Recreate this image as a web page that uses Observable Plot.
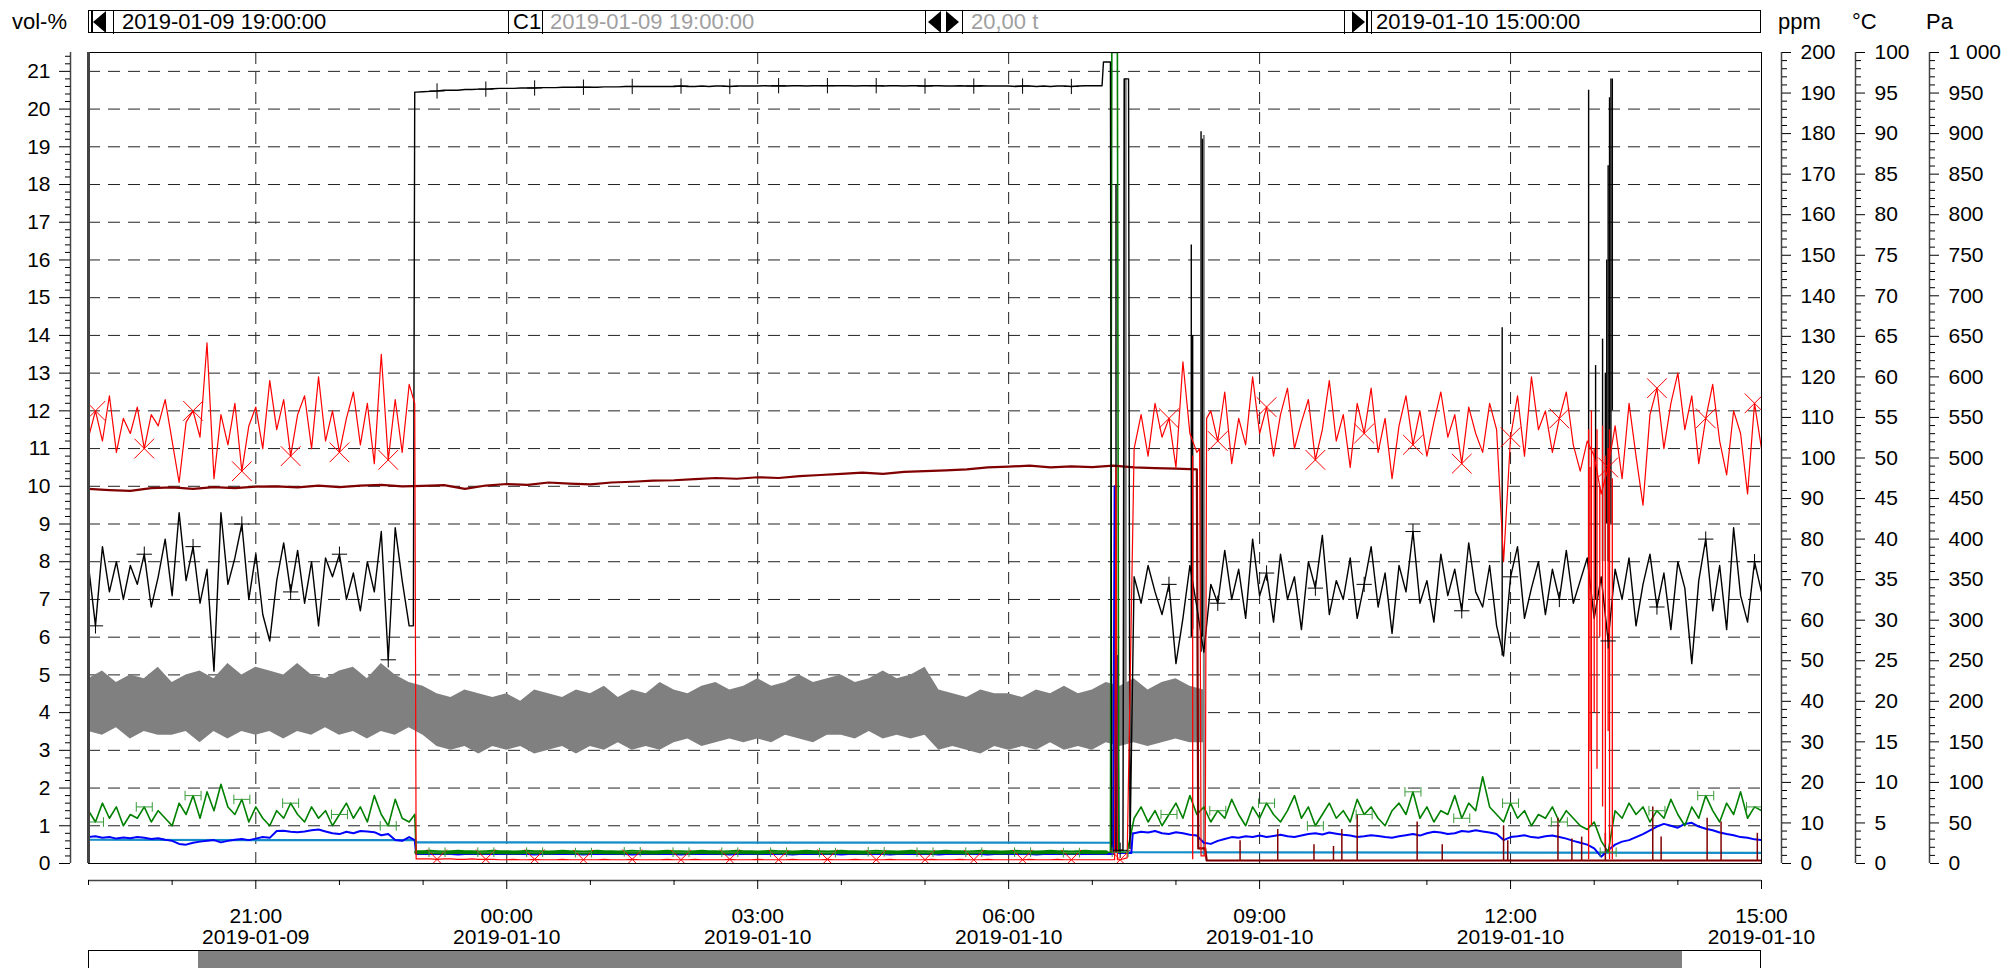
<!DOCTYPE html>
<html><head><meta charset="utf-8">
<script src="https://cdn.jsdelivr.net/npm/d3@7"></script>
<script src="https://cdn.jsdelivr.net/npm/@observablehq/plot@0.6"></script>
<style>
html,body{margin:0;padding:0;background:#fff;}
#wrap{position:relative;width:2004px;height:968px;overflow:hidden;font-family:"Liberation Sans",Arial,sans-serif;color:#000;background:#fff;}
#chart{position:absolute;left:0;top:0;}
.t{position:absolute;white-space:nowrap;font-size:22px;line-height:23px;top:10px;}
.g{color:#a0a0a0;}
.div{position:absolute;top:10px;width:1px;height:24px;background:#000;}
.tri{position:absolute;width:0;height:0;border-top:11px solid transparent;border-bottom:11px solid transparent;}
.tl{border-right:13px solid #000;}
.tr{border-left:13px solid #000;}
</style></head><body>
<div id="wrap">
  <div id="chart"></div>
  <div class="t" style="left:12px">vol-%</div>
  <div style="position:absolute;left:88px;top:10px;width:1673px;height:23px;border:1px solid #000;box-sizing:border-box;"></div>
  <div class="tri tl" style="left:93px;top:11px"></div>
  <div class="div" style="left:91px;width:2px;height:22px;top:11px"></div>
  <div class="div" style="left:113px"></div>
  <div class="t" style="left:122px">2019-01-09 19:00:00</div>
  <div class="div" style="left:508px"></div>
  <div class="t" style="left:513px">C1</div>
  <div class="div" style="left:542px"></div>
  <div class="t g" style="left:550px">2019-01-09 19:00:00</div>
  <div class="div" style="left:925px"></div>
  <div class="tri tl" style="left:928px;top:11px"></div>
  <div class="tri tr" style="left:946px;top:11px"></div>
  <div class="div" style="left:962px"></div>
  <div class="t g" style="left:971px">20,00 t</div>
  <div class="div" style="left:1344px"></div>
  <div class="tri tr" style="left:1352px;top:11px"></div>
  <div class="div" style="left:1366px;width:2px;height:22px;top:11px"></div>
  <div class="div" style="left:1371px"></div>
  <div class="t" style="left:1376px">2019-01-10 15:00:00</div>
  <div class="t" style="left:1778px">ppm</div>
  <div class="t" style="left:1852px">°C</div>
  <div class="t" style="left:1926px">Pa</div>
  <div style="position:absolute;left:88px;top:950px;width:1673px;height:40px;border:1px solid #000;box-sizing:border-box;background:#fff;"></div>
  <div style="position:absolute;left:198px;top:951px;width:1484px;height:40px;background:#808080;"></div>
</div>
<script>
// ---- time helpers (minutes from 2019-01-09 19:00) ----
const T = m => new Date(2019, 0, 9, 19, 0, Math.round(m * 60));
const STEP = 5; // grid step in minutes
const YMAX = 21.5;

// ---- axis tick labels ----
const yTicks = [0,1,2,3,4,5,6,7,8,9,10,11,12,13,14,15,16,17,18,19,20,21];
const ppmTicks = [0,10,20,30,40,50,60,70,80,90,100,110,120,130,140,150,160,170,180,190,200];
const degTicks = [0,5,10,15,20,25,30,35,40,45,50,55,60,65,70,75,80,85,90,95,100];
const paTicks = [0,50,100,150,200,250,300,350,400,450,500,550,600,650,700,750,800,850,900,950,1000];
const xMajorMin = [120, 300, 480, 660, 840, 1020, 1200];   // 21:00 ... 15:00
const xGridMin = [120, 300, 480, 660, 840, 1020];
const xMinorMin = [0, 60, 180, 240, 360, 420, 540, 600, 720, 780, 900, 960, 1080, 1140];

// ---- red series, 5-min grid from 19:00 to 15:00 ----
const red = [
 11.3,12.0,11.2,12.4,10.9,11.8,11.4,12.1,11.0,11.9,11.6,12.3,
 11.2,10.1,11.7,12.0,11.3,13.8,10.2,11.9,11.1,12.2,10.4,11.6,
 12.1,11.0,12.8,11.5,12.3,10.8,11.9,12.4,11.0,12.9,11.2,12.0,
 10.9,11.8,12.5,11.1,12.2,10.6,13.5,10.7,12.3,10.9,12.7,0.12,
 0.12,0.12,0.11,0.12,0.12,0.11,0.11,0.12,0.11,0.11,0.11,0.10,
 0.10,0.11,0.10,0.10,0.11,0.10,0.10,0.10,0.11,0.10,0.10,0.10,
 0.10,0.10,0.11,0.10,0.10,0.10,0.11,0.10,0.10,0.10,0.10,0.11,
 0.10,0.10,0.10,0.11,0.10,0.10,0.10,0.10,0.11,0.10,0.10,0.10,
 0.11,0.10,0.10,0.10,0.10,0.11,0.10,0.10,0.10,0.10,0.11,0.10,
 0.10,0.10,0.11,0.10,0.10,0.10,0.10,0.11,0.10,0.10,0.10,0.10,
 0.10,0.11,0.10,0.10,0.10,0.11,0.10,0.10,0.10,0.11,0.10,0.10,
 0.10,0.10,0.10,0.11,0.10,0.10,0.10,0.11,0.10,0.10,0.10,0.10,
 0.10,0.10,0.10,0.10,0.10,0.15,11.0,11.9,10.8,12.2,11.3,11.8,
 10.5,13.3,11.4,10.9,0.2,12.0,11.2,12.5,10.6,11.8,11.1,12.9,
 11.4,12.1,10.8,11.9,12.6,11.0,11.7,12.3,10.7,11.5,12.8,11.2,
 11.9,10.5,12.2,11.4,12.6,10.9,11.8,10.2,11.6,12.4,11.1,12.0,
 10.8,11.7,12.5,11.3,11.9,10.6,12.1,11.4,10.9,12.2,11.5,8.0,
 11.3,12.4,10.8,12.9,11.5,12.0,10.9,11.8,12.5,11.1,10.4,11.2,
 10.8,9.8,10.5,11.6,10.2,12.2,10.8,9.5,11.9,12.6,11.0,12.2,
 13.0,11.5,12.4,10.6,11.8,12.7,11.2,10.3,12.0,11.4,9.8,12.2,
 11.0
];
const redExtra = [[234,12.2],[736,0.1],[737,10.5],[738,0.1],[797,11.0],[798,0.2],[801,0.2],[802,11.8]];
const redSpikes = [[792,0.1,10.8],[1076,0.1,11.5],[1077,3,10.5],[1078,1,12],[1080,4,11],[1082,2.5,11.5],[1084,6,10],[1086,1.5,11.6],[1088,0.5,10.8],[1090,3.5,11],[1091,0.1,11.5],[1093,0.1,10.2]];

// ---- black series ----
const black = [
 7.9,6.3,8.4,7.2,8.0,7.0,7.9,7.4,8.2,6.8,7.6,8.6,
 7.1,9.3,7.5,8.4,6.9,7.8,5.1,9.3,7.4,8.1,9.0,7.0,
 8.2,6.6,5.9,7.5,8.5,7.2,8.3,6.9,8.0,6.3,8.1,7.6,
 8.2,7.0,7.7,6.7,8.0,7.2,8.8,5.4,8.9,7.5,6.3,20.45,
 20.46,20.47,20.48,20.50,20.50,20.50,20.52,20.52,20.53,20.53,20.54,20.55,
 20.55,20.55,20.56,20.56,20.56,20.57,20.57,20.57,20.58,20.58,20.58,20.58,
 20.58,20.58,20.59,20.59,20.59,20.60,20.60,20.60,20.60,20.60,20.60,20.60,
 20.60,20.61,20.60,20.60,20.61,20.60,20.61,20.61,20.60,20.61,20.61,20.61,
 20.61,20.62,20.61,20.62,20.61,20.62,20.62,20.61,20.62,20.62,20.62,20.62,
 20.62,20.62,20.61,20.62,20.62,20.62,20.61,20.62,20.62,20.61,20.62,20.62,
 20.61,20.62,20.62,20.61,20.61,20.62,20.61,20.61,20.62,20.61,20.61,20.61,
 20.61,20.60,20.61,20.61,20.60,20.61,20.60,20.61,20.61,20.60,20.61,20.62,
 20.62,20.62,21.25,0.3,0.35,20.8,7.6,6.9,7.9,7.2,6.6,7.4,
 5.3,6.5,7.9,6.8,5.6,7.4,6.9,8.3,7.0,7.8,6.5,8.6,
 7.1,7.7,6.4,8.2,7.0,7.6,6.2,8.0,7.3,8.7,6.6,7.5,
 7.0,8.1,6.5,7.4,8.4,6.8,7.7,6.1,7.9,7.2,8.8,6.9,
 7.5,6.4,8.2,7.1,7.8,6.7,8.5,7.2,6.8,7.9,6.3,5.5,
 7.6,8.4,6.5,7.3,8.0,6.6,7.8,7.0,8.3,6.9,7.5,8.1,
 6.5,7.6,5.9,7.8,7.0,8.1,6.3,7.4,8.2,6.8,7.7,6.2,
 8.0,7.3,5.3,7.5,8.6,6.7,7.9,6.2,8.9,7.1,6.4,8.0,
 7.2
];
const blackExtra = [[233,6.3],[234,20.45],[727,20.62],[728,21.25],[733,21.25],[734,0.3],[742,0.35],[743,20.8],[746,20.8],[747,0.4]];
const blackSpikes = [[737,0.3,18.0],[791,6.0,16.4],[792,6.2,14.0],[798,5.6,19.4],[799,6.0,19.2],[1014,5.5,14.2],[1076,7.0,20.5],[1081,7.0,13.2],[1086,8.0,13.9],[1088,8.0,13.0],[1089,9.0,16.0],[1090,8.0,18.5],[1091,10.0,20.3],[1092,9.0,20.8],[1093,12.0,20.8]];

// ---- green series ----
const green = [
 1.4,1.1,1.6,1.2,1.5,1.0,1.3,1.2,1.5,1.1,1.4,1.2,
 1.0,1.6,1.3,1.8,1.2,1.9,1.4,2.1,1.5,1.3,1.7,1.1,
 1.5,1.2,1.0,1.4,1.2,1.6,1.3,1.1,1.5,1.2,1.4,1.0,
 1.3,1.6,1.2,1.5,1.1,1.8,1.3,1.0,1.7,1.2,1.1,0.3,
 0.30,0.31,0.30,0.29,0.30,0.31,0.30,0.30,0.29,0.30,0.31,0.30,
 0.30,0.29,0.30,0.31,0.30,0.30,0.29,0.30,0.31,0.30,0.30,0.29,
 0.30,0.31,0.30,0.30,0.29,0.30,0.31,0.30,0.30,0.29,0.30,0.31,
 0.30,0.30,0.29,0.30,0.31,0.30,0.30,0.29,0.30,0.31,0.30,0.30,
 0.29,0.30,0.31,0.30,0.30,0.29,0.30,0.31,0.30,0.30,0.29,0.30,
 0.31,0.30,0.30,0.29,0.30,0.31,0.30,0.30,0.29,0.30,0.31,0.30,
 0.30,0.29,0.30,0.31,0.30,0.30,0.29,0.30,0.31,0.30,0.30,0.29,
 0.30,0.31,0.30,0.30,0.29,0.30,0.31,0.30,0.30,0.29,0.30,0.31,
 0.30,0.30,0.30,21.5,0.30,0.30,1.2,1.5,1.1,1.4,1.0,1.3,
 1.6,1.2,1.8,1.3,1.5,1.1,1.4,1.2,1.7,1.3,1.0,1.5,
 1.2,1.6,1.3,1.1,1.4,1.8,1.2,1.5,1.0,1.3,1.6,1.2,
 1.4,1.1,1.7,1.3,1.5,1.2,1.0,1.4,1.6,1.3,1.9,1.2,
 1.5,1.1,1.4,1.3,1.8,1.2,1.6,1.4,2.3,1.5,1.3,1.1,
 1.6,1.2,1.4,1.0,1.3,1.2,1.5,1.1,1.4,1.2,1.0,0.9,
 1.1,0.6,0.3,1.4,1.2,1.6,1.3,1.5,1.1,1.4,1.2,1.7,
 1.3,1.0,1.5,1.2,1.8,1.4,1.1,1.6,1.3,1.9,1.2,1.5,
 1.4
];
const greenExtra = [[234,1.3],[733,0.3],[734,21.5],[738,21.5],[739,0.3]];

// ---- blue series ----
const blue = [
 0.70,0.72,0.68,0.70,0.66,0.69,0.67,0.70,0.68,0.65,0.67,0.63,
 0.60,0.52,0.50,0.55,0.58,0.60,0.62,0.56,0.60,0.63,0.65,0.62,
 0.66,0.70,0.68,0.86,0.87,0.84,0.83,0.85,0.88,0.90,0.85,0.80,
 0.78,0.84,0.80,0.86,0.85,0.83,0.75,0.78,0.62,0.60,0.70,0.25,
 0.25,0.25,0.26,0.25,0.25,0.24,0.25,0.25,0.26,0.25,0.25,0.25,
 0.25,0.26,0.25,0.25,0.24,0.25,0.25,0.26,0.25,0.25,0.25,0.24,
 0.25,0.25,0.26,0.25,0.25,0.25,0.24,0.25,0.25,0.26,0.25,0.25,
 0.25,0.24,0.25,0.25,0.26,0.25,0.25,0.25,0.24,0.25,0.26,0.25,
 0.25,0.25,0.25,0.26,0.25,0.24,0.25,0.25,0.25,0.26,0.25,0.25,
 0.24,0.25,0.25,0.25,0.26,0.25,0.25,0.24,0.25,0.25,0.25,0.26,
 0.25,0.25,0.24,0.25,0.25,0.26,0.25,0.25,0.25,0.24,0.25,0.25,
 0.26,0.25,0.25,0.25,0.24,0.25,0.25,0.26,0.25,0.25,0.25,0.25,
 0.25,0.25,0.25,0.25,0.28,0.28,0.80,0.84,0.82,0.86,0.80,0.78,
 0.83,0.80,0.76,0.74,0.55,0.52,0.60,0.65,0.70,0.68,0.72,0.70,
 0.74,0.70,0.73,0.76,0.72,0.70,0.74,0.78,0.80,0.77,0.82,0.79,
 0.76,0.74,0.70,0.72,0.75,0.73,0.70,0.68,0.72,0.75,0.78,0.74,
 0.80,0.84,0.82,0.78,0.80,0.86,0.84,0.88,0.85,0.82,0.78,0.62,
 0.70,0.72,0.75,0.70,0.68,0.72,0.74,0.70,0.66,0.60,0.55,0.50,
 0.40,0.18,0.35,0.50,0.58,0.62,0.70,0.78,0.88,0.98,1.05,1.00,
 0.95,1.05,1.08,0.98,0.92,0.88,0.82,0.78,0.75,0.70,0.68,0.64,
 0.62
];
const blueExtra = [[234,0.62],[736,10.0],[737,0.3],[738,5.5],[739,0.28],[748,0.28],[749,0.8]];

// ---- light blue series (explicit points) ----
const cyanPts = [[0,0.63],[120,0.62],[234,0.62],[235,0.56],[735,0.55],[736,0.55],[737,1.8],[738,0.3],[1200,0.28]];

// ---- dark red series: 15-min steps 19:00-08:15, then low ----
const maroon = [
 9.93,9.90,9.88,9.95, 9.97,9.93,9.98,9.95, 9.99,10.00,9.97,10.02, 9.98,10.02,10.04,10.00,
 10.01,10.03,9.93,10.02, 10.06,10.04,10.10,10.07, 10.05,10.10,10.12,10.15, 10.16,10.19,10.22,10.20,
 10.24,10.22,10.27,10.30, 10.33,10.36,10.33,10.38, 10.40,10.42,10.45,10.50, 10.52,10.55,10.50,10.53,
 10.51,10.55,10.50,10.48, 10.47,10.45
];
const maroonTail = [[796,0.4],[801,0.4],[802,0.08],[1200,0.08]];
const maroonSpikes = [[826,0.6],[853,0.9],[879,0.5],[893,0.45],[899,0.9],[910,1.3],[953,1.1],[971,0.5],[1015,1.0],[1018,0.6],[1054,1.2],[1064,0.65],[1071,0.7],[1088,0.8],[1122,1.5],[1128,0.7],[1161,1.2],[1171,1.1],[1197,0.8]];

// ---- grey noisy band: 10-min envelope 19:00-08:20 ----
const greyHi = [
 4.9,5.1,4.8,5.0,4.9,5.2, 4.8,5.0,5.1,4.9,5.3,5.0, 5.2,5.1,5.0,5.3,5.0,4.9, 5.1,5.2,4.9,5.3,5.0,4.8,
 4.7,4.5,4.4,4.6,4.5,4.4, 4.5,4.3,4.6,4.5,4.4,4.6, 4.5,4.7,4.4,4.6,4.5,4.8, 4.6,4.5,4.7,4.8,4.6,4.7,
 4.9,4.7,4.8,5.0,4.8,4.9, 5.0,4.8,4.9,5.1,4.9,5.0, 5.2,4.6,4.5,4.4,4.6,4.5, 4.5,4.4,4.6,4.5,4.7,4.5,
 4.6,4.8,4.7,4.9,4.6,4.8, 4.9,4.7,4.6
];
const greyLo = [
 3.5,3.4,3.6,3.3,3.5,3.4, 3.4,3.5,3.2,3.5,3.3,3.5, 3.4,3.5,3.3,3.5,3.4,3.6, 3.4,3.5,3.3,3.5,3.4,3.6,
 3.4,3.1,3.0,3.1,2.9,3.1, 3.0,3.1,2.9,3.0,3.1,2.9, 3.1,3.0,3.2,3.0,3.1,3.0, 3.2,3.3,3.1,3.2,3.3,3.2,
 3.3,3.2,3.4,3.3,3.2,3.4, 3.4,3.3,3.5,3.3,3.4,3.3, 3.4,3.0,3.1,3.0,2.9,3.1, 3.0,3.1,3.0,3.2,3.0,3.1,
 3.0,3.2,3.1,3.2,3.1,3.2, 3.3,3.2,3.2
];
const greySpikes = [[743,4.2,20.8],[744,4.0,20.8],[800,0.2,19.3]];

// ---- build tables ----
function table(values, extra, step) {
  const pts = values.map((v, i) => ({m: i * step, v, i}));
  for (const [m, v] of extra) pts.push({m, v, i: -1});
  pts.sort((a, b) => a.m - b.m);
  return pts.map(d => ({t: T(d.m), v: d.v, m: d.m, i: d.i}));
}
const redData = table(red, redExtra, STEP);
const blackData = table(black, blackExtra, STEP);
const greenData = table(green, greenExtra, STEP);
const blueData = table(blue, blueExtra, STEP);
const cyanData = cyanPts.map(([m, v]) => ({t: T(m), v}));
const maroonData = table(maroon, maroonTail, 15);
const greyData = greyHi.map((h, i) => ({t: T(i * 10), hi: h, lo: greyLo[i]}));
const spikes = arr => arr.map(([m, a, b]) => ({t: T(m), y1: a, y2: b}));
const mSpikes = maroonSpikes.map(([m, b]) => ({t: T(m), y1: 0.08, y2: b}));
const marks = data => data.filter(d => d.i >= 0 && d.i % 7 === 1);
const greenLow = greenData.filter(d => d.m >= 235 && d.m <= 730);

const hBar = {draw(ctx, size) { const r = Math.sqrt(size / Math.PI), h = r * 0.6;
  ctx.moveTo(-r, 0); ctx.lineTo(r, 0); ctx.moveTo(-r, -h); ctx.lineTo(-r, h); ctx.moveTo(r, -h); ctx.lineTo(r, h); }};

const toVol = max => v => v * YMAX / max;
const fmtPa = v => { const n = Math.round(v * 1000 / YMAX); return n >= 1000 ? "1 000" : String(n); };
const fH = d3.timeFormat("%H:%M"), fD = d3.timeFormat("%Y-%m-%d");
const minorY = d3.range(0, 21.41, 0.2).filter(v => Math.abs(v - Math.round(v)) > 0.01);
const minor = (max, step, major) => d3.range(0, max + 0.001, step).filter(v => v % major !== 0).map(toVol(max));

const dash = {stroke: "#222", strokeOpacity: 1, strokeDasharray: "12,8"};
const C = {clip: true};
const FS = 21;
const chart = Plot.plot({
  width: 2004, height: 968,
  marginLeft: 88, marginRight: 243, marginTop: 52, marginBottom: 105,
  style: {fontFamily: "'Liberation Sans', Arial, sans-serif", background: "transparent", color: "#000"},
  x: {type: "time", domain: [T(0), T(1200)]},
  y: {domain: [0, YMAX]},
  marks: [
    Plot.gridY({ticks: yTicks.filter(d => d > 0), ...dash}),
    Plot.gridX({ticks: xGridMin.map(T), ...dash}),
    Plot.areaY(greyData, {x: "t", y1: "lo", y2: "hi", fill: "#808080", ...C}),
    Plot.ruleX(spikes(greySpikes), {x: "t", y1: "y1", y2: "y2", stroke: "#808080", strokeWidth: 2, ...C}),
    Plot.line(cyanData, {x: "t", y: "v", stroke: "#148cc8", strokeWidth: 2.2, ...C}),
    Plot.line(blueData, {x: "t", y: "v", stroke: "#0000ff", strokeWidth: 2, ...C}),
    Plot.line(greenData, {x: "t", y: "v", stroke: "#008000", strokeWidth: 1.6, ...C}),
    Plot.line(greenLow, {x: "t", y: "v", stroke: "#008000", strokeWidth: 4, ...C}),
    Plot.line(maroonData, {x: "t", y: "v", stroke: "#800000", strokeWidth: 2.2, ...C}),
    Plot.ruleX(mSpikes, {x: "t", y1: "y1", y2: "y2", stroke: "#800000", strokeWidth: 1.5, ...C}),
    Plot.line(blackData, {x: "t", y: "v", stroke: "#000", strokeWidth: 1.4, ...C}),
    Plot.ruleX(spikes(blackSpikes), {x: "t", y1: "y1", y2: "y2", stroke: "#000", strokeWidth: 1.4, ...C}),
    Plot.line(redData, {x: "t", y: "v", stroke: "#ff0000", strokeWidth: 1.2, ...C}),
    Plot.ruleX(spikes(redSpikes), {x: "t", y1: "y1", y2: "y2", stroke: "#ff0000", strokeWidth: 1.3, ...C}),
    Plot.dot(marks(redData), {x: "t", y: "v", symbol: "times", r: 9, stroke: "#ff0000", strokeWidth: 1, ...C}),
    Plot.dot(marks(blackData), {x: "t", y: "v", symbol: "plus", r: 5, stroke: "#000", strokeWidth: 1, ...C}),
    Plot.dot(marks(greenData), {x: "t", y: "v", symbol: hBar, r: 8, stroke: "#3a9a3a", fill: "none", strokeWidth: 1, ...C}),
    Plot.frame({stroke: "#000"}),
    Plot.ruleX([T(0)], {stroke: "#444", strokeWidth: 3}),
    // left axis
    Plot.ruleX([T(0)], {dx: -18, stroke: "#444", strokeWidth: 1.5}),
    Plot.axisY({ticks: yTicks, anchor: "left", dx: -18, tickSize: 11, tickPadding: 9, fontSize: FS, label: null, tickFormat: d => String(d)}),
    Plot.axisY({ticks: minorY, anchor: "left", dx: -18, tickSize: 5, label: null, tickFormat: () => ""}),
    // ppm axis
    Plot.ruleX([T(1200)], {dx: 20, stroke: "#444", strokeWidth: 1.5}),
    Plot.axisY({ticks: ppmTicks.map(toVol(200)), anchor: "right", dx: 20, tickSize: 9, tickPadding: 10, fontSize: FS, label: null, tickFormat: v => String(Math.round(v * 200 / YMAX))}),
    Plot.axisY({ticks: minor(200, 2, 10), anchor: "right", dx: 20, tickSize: 5, label: null, tickFormat: () => ""}),
    // degC axis
    Plot.ruleX([T(1200)], {dx: 94, stroke: "#444", strokeWidth: 1.5}),
    Plot.axisY({ticks: degTicks.map(toVol(100)), anchor: "right", dx: 94, tickSize: 9, tickPadding: 10, fontSize: FS, label: null, tickFormat: v => String(Math.round(v * 100 / YMAX))}),
    Plot.axisY({ticks: minor(100, 1, 5), anchor: "right", dx: 94, tickSize: 5, label: null, tickFormat: () => ""}),
    // Pa axis
    Plot.ruleX([T(1200)], {dx: 168, stroke: "#444", strokeWidth: 1.5}),
    Plot.axisY({ticks: paTicks.map(toVol(1000)), anchor: "right", dx: 168, tickSize: 9, tickPadding: 10, fontSize: FS, label: null, tickFormat: fmtPa}),
    Plot.axisY({ticks: minor(1000, 10, 50), anchor: "right", dx: 168, tickSize: 5, label: null, tickFormat: () => ""}),
    // bottom time axis
    Plot.ruleY([0], {dy: 17, stroke: "#444", strokeWidth: 1.5}),
    Plot.axisX({ticks: xMajorMin.map(T), anchor: "bottom", dy: 17, tickSize: 9, tickPadding: 19, fontSize: FS, lineHeight: 1.0, label: null, tickFormat: d => fH(d) + "\n" + fD(d)}),
    Plot.axisX({ticks: xMinorMin.map(T), anchor: "bottom", dy: 17, tickSize: 5, label: null, tickFormat: () => ""})
  ]
});
document.getElementById("chart").appendChild(chart);
</script>
</body></html>
